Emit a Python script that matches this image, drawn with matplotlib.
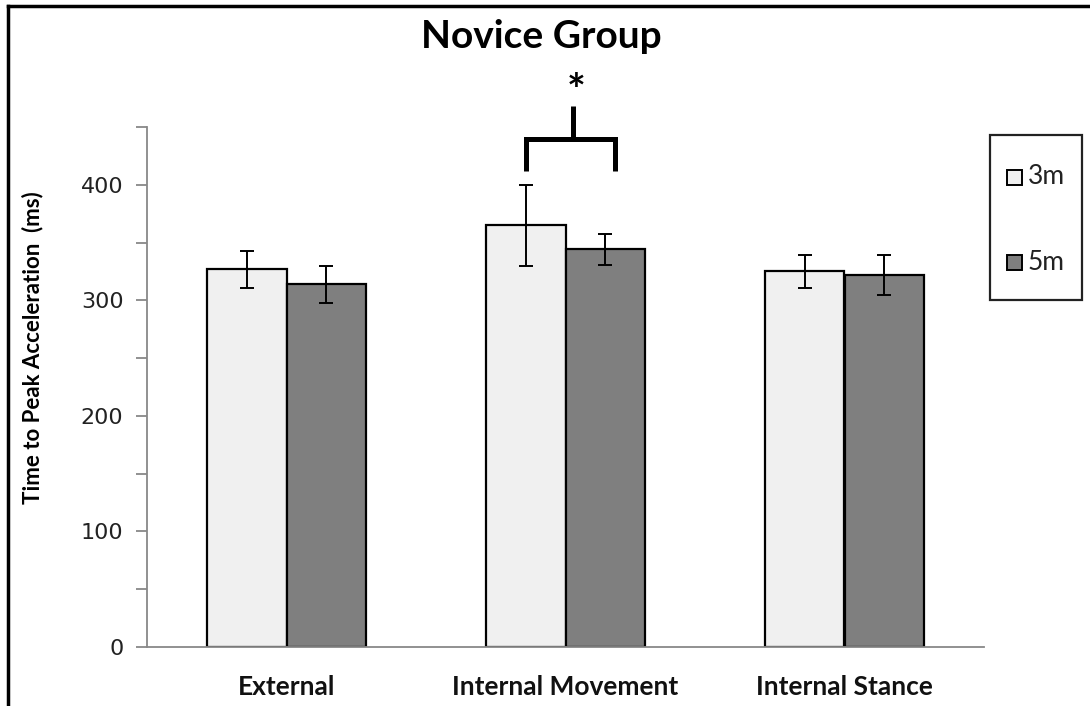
import numpy as np
import matplotlib
matplotlib.use("Agg")
import matplotlib.pyplot as plt
from matplotlib.patches import Rectangle
from matplotlib.lines import Line2D

categories = ["External", "Internal Movement", "Internal Stance"]
series = ["3m", "5m"]
means_3m = [327, 365, 325]
means_5m = [314, 344, 322]
err_3m = [16, 35, 14]
err_5m = [16, 13, 17]

colors = ["#f0f0f0", "#7f7f7f"]
label_font = "Lato"


def main():
    fig = plt.figure(figsize=(10.9, 7.06), dpi=100)
    ax = fig.add_axes([147 / 1090, 1 - 647 / 706, (984 - 147) / 1090, (647 - 127) / 706])

    ind = np.arange(len(categories))
    width = 0.285

    ax.bar(ind - width / 2, means_3m, width, color=colors[0], edgecolor="black",
           linewidth=1.6, zorder=2)
    ax.bar(ind + width / 2, means_5m, width, color=colors[1], edgecolor="black",
           linewidth=1.6, zorder=2)
    ax.errorbar(ind - width / 2, means_3m, yerr=err_3m, fmt="none", ecolor="black",
                elinewidth=1.4, capsize=5, capthick=1.4, zorder=3)
    ax.errorbar(ind + width / 2, means_5m, yerr=err_5m, fmt="none", ecolor="black",
                elinewidth=1.4, capsize=5, capthick=1.4, zorder=3)

    ax.set_xlim(-0.5, 2.5)
    ax.set_ylim(0, 450)
    ax.set_yticks(np.arange(0, 401, 100))
    ax.set_yticks(np.arange(50, 451, 100), minor=True)
    ax.set_xticks([])

    for s in ["top", "right"]:
        ax.spines[s].set_visible(False)
    for s in ["left", "bottom"]:
        ax.spines[s].set_color("#888888")
        ax.spines[s].set_linewidth(1.3)
    ax.tick_params(axis="y", which="both", direction="out", length=8, width=1.3,
                   color="#888888", labelsize=16, pad=9, labelcolor="#222222")

    # significance bracket over Internal Movement
    x1, x2 = 1 - width / 2, 1 + width / 2 + 0.035
    xm = 1.027
    ax.plot([x1, x1, x2, x2], [412, 440, 440, 412], color="black", lw=3.6,
            clip_on=False, solid_joinstyle="miter", solid_capstyle="butt")
    ax.plot([xm, xm], [440, 468], color="black", lw=3.6, clip_on=False,
            solid_capstyle="butt")
    ax.text(xm + 0.01, 480, "*", ha="center", va="center", fontsize=32,
            fontweight="bold", family=label_font)

    for i, c in enumerate(categories):
        ax.text(i, -35, c, ha="center", va="center", fontsize=19, fontweight="bold",
                family=label_font, color="#111111")

    fig.text(33 / 1090, 1 - 348 / 706, "Time to Peak Acceleration  (ms)", rotation=90,
             ha="center", va="center", fontsize=16, fontweight="bold", family=label_font)
    fig.text(541 / 1090, 1 - 36 / 706, "Novice Group", ha="center", va="center",
             fontsize=28, fontweight="bold", family=label_font)

    # legend box drawn by hand in figure pixels
    fig.patches.append(Rectangle((990 / 1090, 1 - 300 / 706), 92 / 1090, 165 / 706,
                                 transform=fig.transFigure, fill=False,
                                 edgecolor="#222222", linewidth=1.6))
    for k, yc in enumerate([177, 262]):
        fig.patches.append(Rectangle((1007 / 1090, 1 - (yc + 8) / 706), 15 / 1090,
                                     15 / 706, transform=fig.transFigure,
                                     facecolor=colors[k], edgecolor="black",
                                     linewidth=1.4))
        fig.text(1028 / 1090, 1 - yc / 706, series[k], ha="left", va="center",
                 fontsize=19, family=label_font, color="#222222")

    # outer frame (top and left edges)
    fig.add_artist(Line2D([8 / 1090, 1], [1 - 6 / 706, 1 - 6 / 706],
                          transform=fig.transFigure, color="black", lw=2.5))
    fig.add_artist(Line2D([8 / 1090, 8 / 1090], [0, 1 - 6 / 706],
                          transform=fig.transFigure, color="black", lw=2.5))

    fig.savefig("out.png", dpi=100)


if __name__ == "__main__":
    main()
